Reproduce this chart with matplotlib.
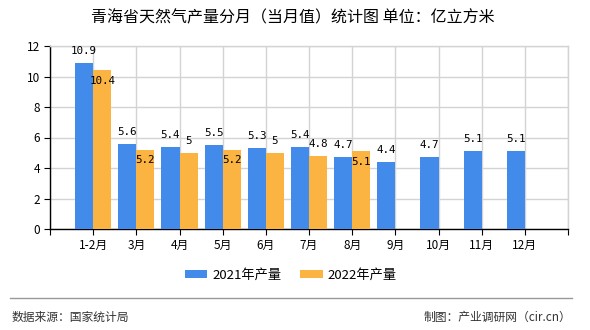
import numpy as np
import matplotlib
matplotlib.use("Agg")
import matplotlib.pyplot as plt
from matplotlib.lines import Line2D

plt.rcParams['font.family'] = ['Noto Sans CJK SC', 'DejaVu Sans']

# data
months = ['1-2月', '3月', '4月', '5月', '6月', '7月', '8月', '9月', '10月', '11月', '12月']
y2021 = [10.9, 5.6, 5.4, 5.5, 5.3, 5.4, 4.7, 4.4, 4.7, 5.1, 5.1]
y2022 = [10.4, 5.2, 5.0, 5.2, 5.0, 4.8, 5.1]

c2021 = '#428BEB'
c2022 = '#FBB441'
grid_c = '#D3D3D3'

fig = plt.figure(figsize=(5.9, 3.3), dpi=100)
ax = fig.add_axes([50 / 590, 1 - 229 / 330, 518 / 590, 183 / 330])

x = np.arange(len(months))
w = 0.42
ax.bar(x - w / 2, y2021, w, color=c2021, zorder=3, label='2021年产量')
x2 = np.arange(len(y2022))
ax.bar(x2 + w / 2, y2022, w, color=c2022, zorder=3, label='2022年产量')

def fmt(v):
    return ('%g' % v)

# value labels
lab_kw = dict(ha='center', fontsize=7.8, family='DejaVu Sans Mono', zorder=5)
for i, v in enumerate(y2021):
    ax.annotate(fmt(v), (i - w / 2, v), xytext=(0, 5), textcoords='offset points',
                va='bottom', **lab_kw)
for i, v in enumerate(y2022):
    s = fmt(v)
    if len(s) > 1 and abs(v - y2021[i]) < 0.55:
        ax.annotate(s, (i + w / 2, v), xytext=(0, -4), textcoords='offset points',
                    va='top', **lab_kw)
    else:
        ax.annotate(s, (i + w / 2, v), xytext=(0, 5), textcoords='offset points',
                    va='bottom', **lab_kw)

ax.set_xlim(-1, len(months))
ax.set_ylim(0, 12)
ax.set_yticks(np.arange(0, 13, 2))
ax.set_xticks(np.arange(-1, len(months) + 1))
ax.set_xticklabels([''] + months + [''], fontsize=8.5)
ax.tick_params(axis='y', labelsize=8.5, length=4, color='black', pad=3)
ax.tick_params(axis='x', length=4, color='black', pad=3)
ax.grid(True, color=grid_c, linewidth=1, zorder=0)
ax.set_axisbelow(True)
for s in ['top', 'right']:
    ax.spines[s].set_color(grid_c)
    ax.spines[s].set_linewidth(1)
for s in ['left', 'bottom']:
    ax.spines[s].set_color('black')
    ax.spines[s].set_linewidth(1)

fig.text(0.497, 1 - 18 / 330, '青海省天然气产量分月（当月值）统计图 单位：亿立方米',
         ha='center', va='center', fontsize=11.5, color='black')

fig.legend(loc='center', bbox_to_anchor=(0.493, 1 - 275 / 330), ncol=2, frameon=False,
           fontsize=9.5, handlelength=1.7, handleheight=0.6, handletextpad=0.4,
           columnspacing=1.4)

# footer
fig.add_artist(Line2D([10 / 590, 572 / 590], [1 - 298 / 330] * 2, color='#999999', linewidth=1))
fig.text(12 / 590, 1 - 317 / 330, '数据来源：国家统计局', ha='left', va='center',
         fontsize=8.5, color='#333333')
fig.text(571 / 590, 1 - 317 / 330, '制图：产业调研网（cir.cn）', ha='right', va='center',
         fontsize=8.5, color='#333333')

fig.savefig('out.png', dpi=100)
